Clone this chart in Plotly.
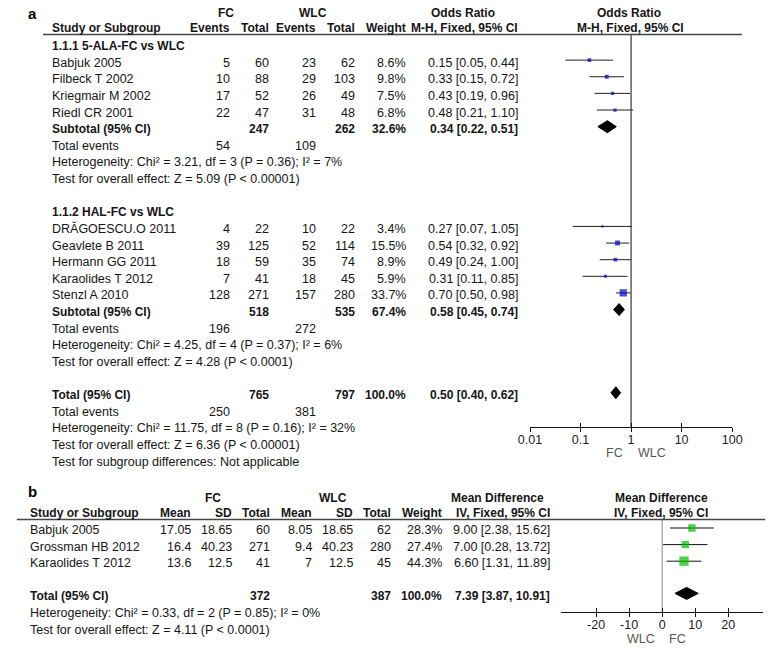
import plotly.graph_objects as go

W, H = 782, 651
FONT = "Liberation Sans, Arial, sans-serif"

# ---------------- Panel a data (Odds Ratio) ----------------
a1_title = "1.1.1 5-ALA-FC vs WLC"
a1_study = ["Babjuk 2005", "Filbeck T 2002", "Kriegmair M 2002", "Riedl CR 2001"]
a1_fc_events = [5, 10, 17, 22]
a1_fc_total = [60, 88, 52, 47]
a1_wlc_events = [23, 29, 26, 31]
a1_wlc_total = [62, 103, 49, 48]
a1_weight = [8.6, 9.8, 7.5, 6.8]
a1_or = [0.15, 0.33, 0.43, 0.48]
a1_lo = [0.05, 0.15, 0.19, 0.21]
a1_hi = [0.44, 0.72, 0.96, 1.10]
a1_sub = dict(fc_total=247, wlc_total=262, weight=32.6, est=0.34, lo=0.22, hi=0.51,
              fc_events=54, wlc_events=109,
              het="Heterogeneity: Chi² = 3.21, df = 3 (P = 0.36); I² = 7%",
              test="Test for overall effect: Z = 5.09 (P < 0.00001)")

a2_title = "1.1.2 HAL-FC vs WLC"
a2_study = ["DRĂGOESCU.O 2011", "Geavlete B 2011", "Hermann GG 2011", "Karaolides T 2012", "Stenzl A 2010"]
a2_fc_events = [4, 39, 18, 7, 128]
a2_fc_total = [22, 125, 59, 41, 271]
a2_wlc_events = [10, 52, 35, 18, 157]
a2_wlc_total = [22, 114, 74, 45, 280]
a2_weight = [3.4, 15.5, 8.9, 5.9, 33.7]
a2_or = [0.27, 0.54, 0.49, 0.31, 0.70]
a2_lo = [0.07, 0.32, 0.24, 0.11, 0.50]
a2_hi = [1.05, 0.92, 1.00, 0.85, 0.98]
a2_sub = dict(fc_total=518, wlc_total=535, weight=67.4, est=0.58, lo=0.45, hi=0.74,
              fc_events=196, wlc_events=272,
              het="Heterogeneity: Chi² = 4.25, df = 4 (P = 0.37); I² = 6%",
              test="Test for overall effect: Z = 4.28 (P < 0.0001)")

a_total = dict(fc_total=765, wlc_total=797, weight=100.0, est=0.50, lo=0.40, hi=0.62,
               fc_events=250, wlc_events=381,
               het="Heterogeneity: Chi² = 11.75, df = 8 (P = 0.16); I² = 32%",
               test="Test for overall effect: Z = 6.36 (P < 0.00001)",
               subgroup="Test for subgroup differences: Not applicable")
a_ticks = [0.01, 0.1, 1, 10, 100]
a_ticktext = ["0.01", "0.1", "1", "10", "100"]

# ---------------- Panel b data (Mean Difference) ----------------
b_study = ["Babjuk 2005", "Grossman HB 2012", "Karaolides T 2012"]
b_fc_mean = [17.05, 16.4, 13.6]
b_fc_sd = [18.65, 40.23, 12.5]
b_fc_total = [60, 271, 41]
b_wlc_mean = [8.05, 9.4, 7]
b_wlc_sd = [18.65, 40.23, 12.5]
b_wlc_total = [62, 280, 45]
b_weight = [28.3, 27.4, 44.3]
b_md = [9.00, 7.00, 6.60]
b_lo = [2.38, 0.28, 1.31]
b_hi = [15.62, 13.72, 11.89]
b_total = dict(fc_total=372, wlc_total=387, weight=100.0, est=7.39, lo=3.87, hi=10.91,
               het="Heterogeneity: Chi² = 0.33, df = 2 (P = 0.85); I² = 0%",
               test="Test for overall effect: Z = 4.11 (P < 0.0001)")
b_ticks = [-20, -10, 0, 10, 20]
b_ticktext = ["-20", "-10", "0", "10", "20"]

# ---------------- helpers ----------------
ann = []
shapes = []


def px(x):
    return x / W


def py(y):
    return 1 - y / H


def txt(x, y, s, anchor="left", bold=False, size=12.5, color="#151515"):
    if bold:
        s = f"<b>{s}</b>"
    ann.append(dict(x=px(x), y=py(y), xref="paper", yref="paper", text=s, showarrow=False,
                    xanchor=anchor, yanchor="middle", borderpad=0,
                    font=dict(size=size, color=color, family=FONT)))


def hline(x0, x1, y, color="#444", width=1.5):
    shapes.append(dict(type="line", xref="paper", yref="paper", x0=px(x0), x1=px(x1),
                       y0=py(y), y1=py(y), line=dict(color=color, width=width)))


def fmt_ci(e, l, h):
    return f"{e:.2f} [{l:.2f}, {h:.2f}]"


fig = go.Figure()

# ================= Panel a =================
A0, ADY = 46.0, 16.63


def ya(k):
    return A0 + ADY * k


MARK_OFF = 2.5
txt(15, 14, "a", bold=True, size=15, color="#000")
txt(220, 13, "FC", anchor="center", bold=True, size=12)
txt(310, 13, "WLC", anchor="center", bold=True, size=12)
txt(464, 13, "Odds Ratio", anchor="center", bold=True, size=12)
txt(635, 13, "Odds Ratio", anchor="center", bold=True, size=12)
txt(40, 28, "Study or Subgroup", bold=True, size=12)
txt(225, 28, "Events", anchor="right", bold=True, size=12)
txt(265, 28, "Total", anchor="right", bold=True, size=12)
txt(314, 28, "Events", anchor="right", bold=True, size=12)
txt(354, 28, "Total", anchor="right", bold=True, size=12)
txt(406, 28, "Weight", anchor="right", bold=True, size=12)
txt(522, 28, "M-H, Fixed, 95% CI", anchor="right", bold=True, size=12)
txt(636, 28, "M-H, Fixed, 95% CI", anchor="center", bold=True, size=12)
hline(32, 751, 34.5)

ci_x, ci_y, sq_x, sq_y, sq_s = [], [], [], [], []
dia = []


def study_rows(k0, title, study, fe, ft, we, wt, wg, est, lo, hi, sub):
    txt(40, ya(k0), title, bold=True, size=12)
    for i, name in enumerate(study):
        k = k0 + 1 + i
        y = ya(k)
        txt(40, y, name)
        txt(225, y, str(fe[i]), "right")
        txt(265, y, str(ft[i]), "right")
        txt(314, y, str(we[i]), "right")
        txt(354, y, str(wt[i]), "right")
        txt(406, y, f"{wg[i]:.1f}%", "right")
        txt(522, y, fmt_ci(est[i], lo[i], hi[i]), "right")
        ci_x.extend([lo[i], hi[i], None])
        ci_y.extend([y - MARK_OFF, y - MARK_OFF, None])
        sq_x.append(est[i])
        sq_y.append(y - MARK_OFF)
        sq_s.append(1.25 * wg[i] ** 0.5)
    k = k0 + 1 + len(study)
    y = ya(k)
    txt(40, y, "Subtotal (95% CI)", bold=True, size=12)
    txt(265, y, str(sub["fc_total"]), "right", bold=True, size=12)
    txt(354, y, str(sub["wlc_total"]), "right", bold=True, size=12)
    txt(406, y, f"{sub['weight']:.1f}%", "right", bold=True, size=12)
    txt(522, y, fmt_ci(sub["est"], sub["lo"], sub["hi"]), "right", bold=True, size=12)
    dia.append((sub["est"], sub["lo"], sub["hi"], y - MARK_OFF))
    txt(40, ya(k + 1), "Total events")
    txt(225, ya(k + 1), str(sub["fc_events"]), "right")
    txt(314, ya(k + 1), str(sub["wlc_events"]), "right")
    txt(40, ya(k + 2), sub["het"])
    txt(40, ya(k + 3), sub["test"])
    return k + 3


kend = study_rows(0, a1_title, a1_study, a1_fc_events, a1_fc_total, a1_wlc_events, a1_wlc_total,
                  a1_weight, a1_or, a1_lo, a1_hi, a1_sub)
kend = study_rows(kend + 2, a2_title, a2_study, a2_fc_events, a2_fc_total, a2_wlc_events, a2_wlc_total,
                  a2_weight, a2_or, a2_lo, a2_hi, a2_sub)
k = kend + 2
y = ya(k)
txt(40, y, "Total (95% CI)", bold=True, size=12)
txt(265, y, str(a_total["fc_total"]), "right", bold=True, size=12)
txt(354, y, str(a_total["wlc_total"]), "right", bold=True, size=12)
txt(406, y, f"{a_total['weight']:.1f}%", "right", bold=True, size=12)
txt(522, y, fmt_ci(a_total["est"], a_total["lo"], a_total["hi"]), "right", bold=True, size=12)
dia.append((a_total["est"], a_total["lo"], a_total["hi"], y - MARK_OFF))
txt(40, ya(k + 1), "Total events")
txt(225, ya(k + 1), str(a_total["fc_events"]), "right")
txt(314, ya(k + 1), str(a_total["wlc_events"]), "right")
txt(40, ya(k + 2), a_total["het"])
txt(40, ya(k + 3), a_total["test"])
txt(40, ya(k + 4), a_total["subgroup"])

# reference line at OR = 1
fig.add_trace(go.Scatter(x=[1, 1], y=[34, 427], mode="lines", line=dict(color="#111", width=1),
                         xaxis="x", yaxis="y", hoverinfo="skip", showlegend=False))
fig.add_trace(go.Scatter(x=ci_x, y=ci_y, mode="lines", line=dict(color="#222", width=1),
                         xaxis="x", yaxis="y", hoverinfo="skip", showlegend=False))
fig.add_trace(go.Scatter(x=sq_x, y=sq_y, mode="markers",
                         marker=dict(symbol="square", size=sq_s, color="#0000CC", line=dict(width=0)),
                         xaxis="x", yaxis="y", hoverinfo="skip", showlegend=False))
DH = 6.0
for est, lo, hi, yy in dia:
    fig.add_trace(go.Scatter(x=[lo, est, hi, est, lo], y=[yy, yy - DH, yy, yy + DH, yy],
                             mode="lines", fill="toself", fillcolor="#000",
                             line=dict(color="#000", width=1),
                             xaxis="x", yaxis="y", hoverinfo="skip", showlegend=False))
txt(630, 453, "FC", "right", color="#555")
txt(643, 453, "WLC", "left", color="#555")

# ================= Panel b =================
B0, BDY = 530.0, 16.6


def yb(k):
    return B0 + BDY * k


txt(15, 492, "b", bold=True, size=15, color="#000")
txt(207, 498, "FC", anchor="center", bold=True, size=12)
txt(330, 498, "WLC", anchor="center", bold=True, size=12)
txt(500, 498, "Mean Difference", anchor="center", bold=True, size=12)
txt(668, 498, "Mean Difference", anchor="center", bold=True, size=12)
txt(17, 513, "Study or Subgroup", bold=True, size=12)
txt(185, 513, "Mean", "right", bold=True, size=12)
txt(227, 513, "SD", "right", bold=True, size=12)
txt(267, 513, "Total", "right", bold=True, size=12)
txt(310, 513, "Mean", "right", bold=True, size=12)
txt(352, 513, "SD", "right", bold=True, size=12)
txt(391, 513, "Total", "right", bold=True, size=12)
txt(443, 513, "Weight", "right", bold=True, size=12)
txt(555, 513, "IV, Fixed, 95% CI", "right", bold=True, size=12)
txt(668, 513, "IV, Fixed, 95% CI", anchor="center", bold=True, size=12)
hline(5, 775, 519.5)

bci_x, bci_y, bsq_x, bsq_y, bsq_s = [], [], [], [], []
for i, name in enumerate(b_study):
    y = yb(i)
    txt(17, y, name)
    txt(185, y, f"{b_fc_mean[i]:g}", "right")
    txt(227, y, f"{b_fc_sd[i]:g}", "right")
    txt(267, y, str(b_fc_total[i]), "right")
    txt(310, y, f"{b_wlc_mean[i]:g}", "right")
    txt(352, y, f"{b_wlc_sd[i]:g}", "right")
    txt(391, y, str(b_wlc_total[i]), "right")
    txt(443, y, f"{b_weight[i]:.1f}%", "right")
    txt(555, y, fmt_ci(b_md[i], b_lo[i], b_hi[i]), "right")
    bci_x.extend([b_lo[i], b_hi[i], None])
    bci_y.extend([y - 2, y - 2, None])
    bsq_x.append(b_md[i])
    bsq_y.append(y - 2)
    bsq_s.append(1.4 * b_weight[i] ** 0.5)

y = yb(4)
txt(17, y, "Total (95% CI)", bold=True, size=12)
txt(267, y, str(b_total["fc_total"]), "right", bold=True, size=12)
txt(391, y, str(b_total["wlc_total"]), "right", bold=True, size=12)
txt(443, y, f"{b_total['weight']:.1f}%", "right", bold=True, size=12)
txt(555, y, fmt_ci(b_total["est"], b_total["lo"], b_total["hi"]), "right", bold=True, size=12)
txt(17, yb(5), b_total["het"])
txt(17, yb(6), b_total["test"])

fig.add_trace(go.Scatter(x=[0, 0], y=[520, 612], mode="lines", line=dict(color="#888", width=1),
                         xaxis="x2", yaxis="y2", hoverinfo="skip", showlegend=False))
fig.add_trace(go.Scatter(x=bci_x, y=bci_y, mode="lines", line=dict(color="#111", width=1),
                         xaxis="x2", yaxis="y2", hoverinfo="skip", showlegend=False))
fig.add_trace(go.Scatter(x=bsq_x, y=bsq_y, mode="markers",
                         marker=dict(symbol="square", size=bsq_s, color="#00C000", line=dict(width=0)),
                         xaxis="x2", yaxis="y2", hoverinfo="skip", showlegend=False))
yy = y - 3
e, l, h = b_total["est"], b_total["lo"], b_total["hi"]
fig.add_trace(go.Scatter(x=[l, e, h, e, l], y=[yy, yy - 6, yy, yy + 6, yy], mode="lines",
                         fill="toself", fillcolor="#000", line=dict(color="#000", width=1),
                         xaxis="x2", yaxis="y2", hoverinfo="skip", showlegend=False))
txt(663, 639, "WLC", "right", color="#555")
txt(675, 639, "FC", "left", color="#555")

# dummy traces for overlay tick axes
fig.add_trace(go.Scatter(x=[1], y=[200], mode="markers", marker=dict(opacity=0),
                         xaxis="x3", yaxis="y", hoverinfo="skip", showlegend=False))
fig.add_trace(go.Scatter(x=[0], y=[560], mode="markers", marker=dict(opacity=0),
                         xaxis="x4", yaxis="y2", hoverinfo="skip", showlegend=False))

ax_common = dict(showgrid=False, zeroline=False, fixedrange=True)
tickfont = dict(size=12.5, color="#222", family=FONT)
fig.update_layout(
    width=W, height=H, margin=dict(l=0, r=0, t=0, b=0),
    paper_bgcolor="white", plot_bgcolor="rgba(0,0,0,0)",
    showlegend=False, annotations=ann, shapes=shapes, hovermode=False,
    xaxis=dict(domain=[533 / W, 741 / W], type="log", range=[-2, 2], anchor="y",
               showline=True, linecolor="#111", linewidth=1, ticks="outside", ticklen=4,
               tickcolor="#111", tickvals=a_ticks, ticktext=a_ticktext, tickfont=tickfont,
               ticklabelstandoff=-3, **ax_common),
    xaxis3=dict(overlaying="x", type="log", range=[-2, 2], anchor="y", showline=False,
                ticks="inside", ticklen=4, tickcolor="#111", tickvals=a_ticks,
                showticklabels=False, **ax_common),
    yaxis=dict(domain=[1 - 427 / H, 1 - 34 / H], range=[427, 34], visible=False, **ax_common),
    xaxis2=dict(domain=[565 / W, 773 / W], range=[-30.6, 30.6], anchor="y2",
                showline=True, linecolor="#111", linewidth=1, ticks="outside", ticklen=4,
                tickcolor="#111", tickvals=b_ticks, ticktext=b_ticktext, tickfont=tickfont,
                ticklabelstandoff=-3, **ax_common),
    xaxis4=dict(overlaying="x2", range=[-30.6, 30.6], anchor="y2", showline=False,
                ticks="inside", ticklen=4, tickcolor="#111", tickvals=b_ticks,
                showticklabels=False, **ax_common),
    yaxis2=dict(domain=[1 - 612 / H, 1 - 520 / H], range=[612, 520], visible=False, **ax_common),
)

fig.write_html("out.html", config={"displayModeBar": False, "staticPlot": True},
               post_script="document.body.style.margin='0';document.body.style.overflow='hidden';")
